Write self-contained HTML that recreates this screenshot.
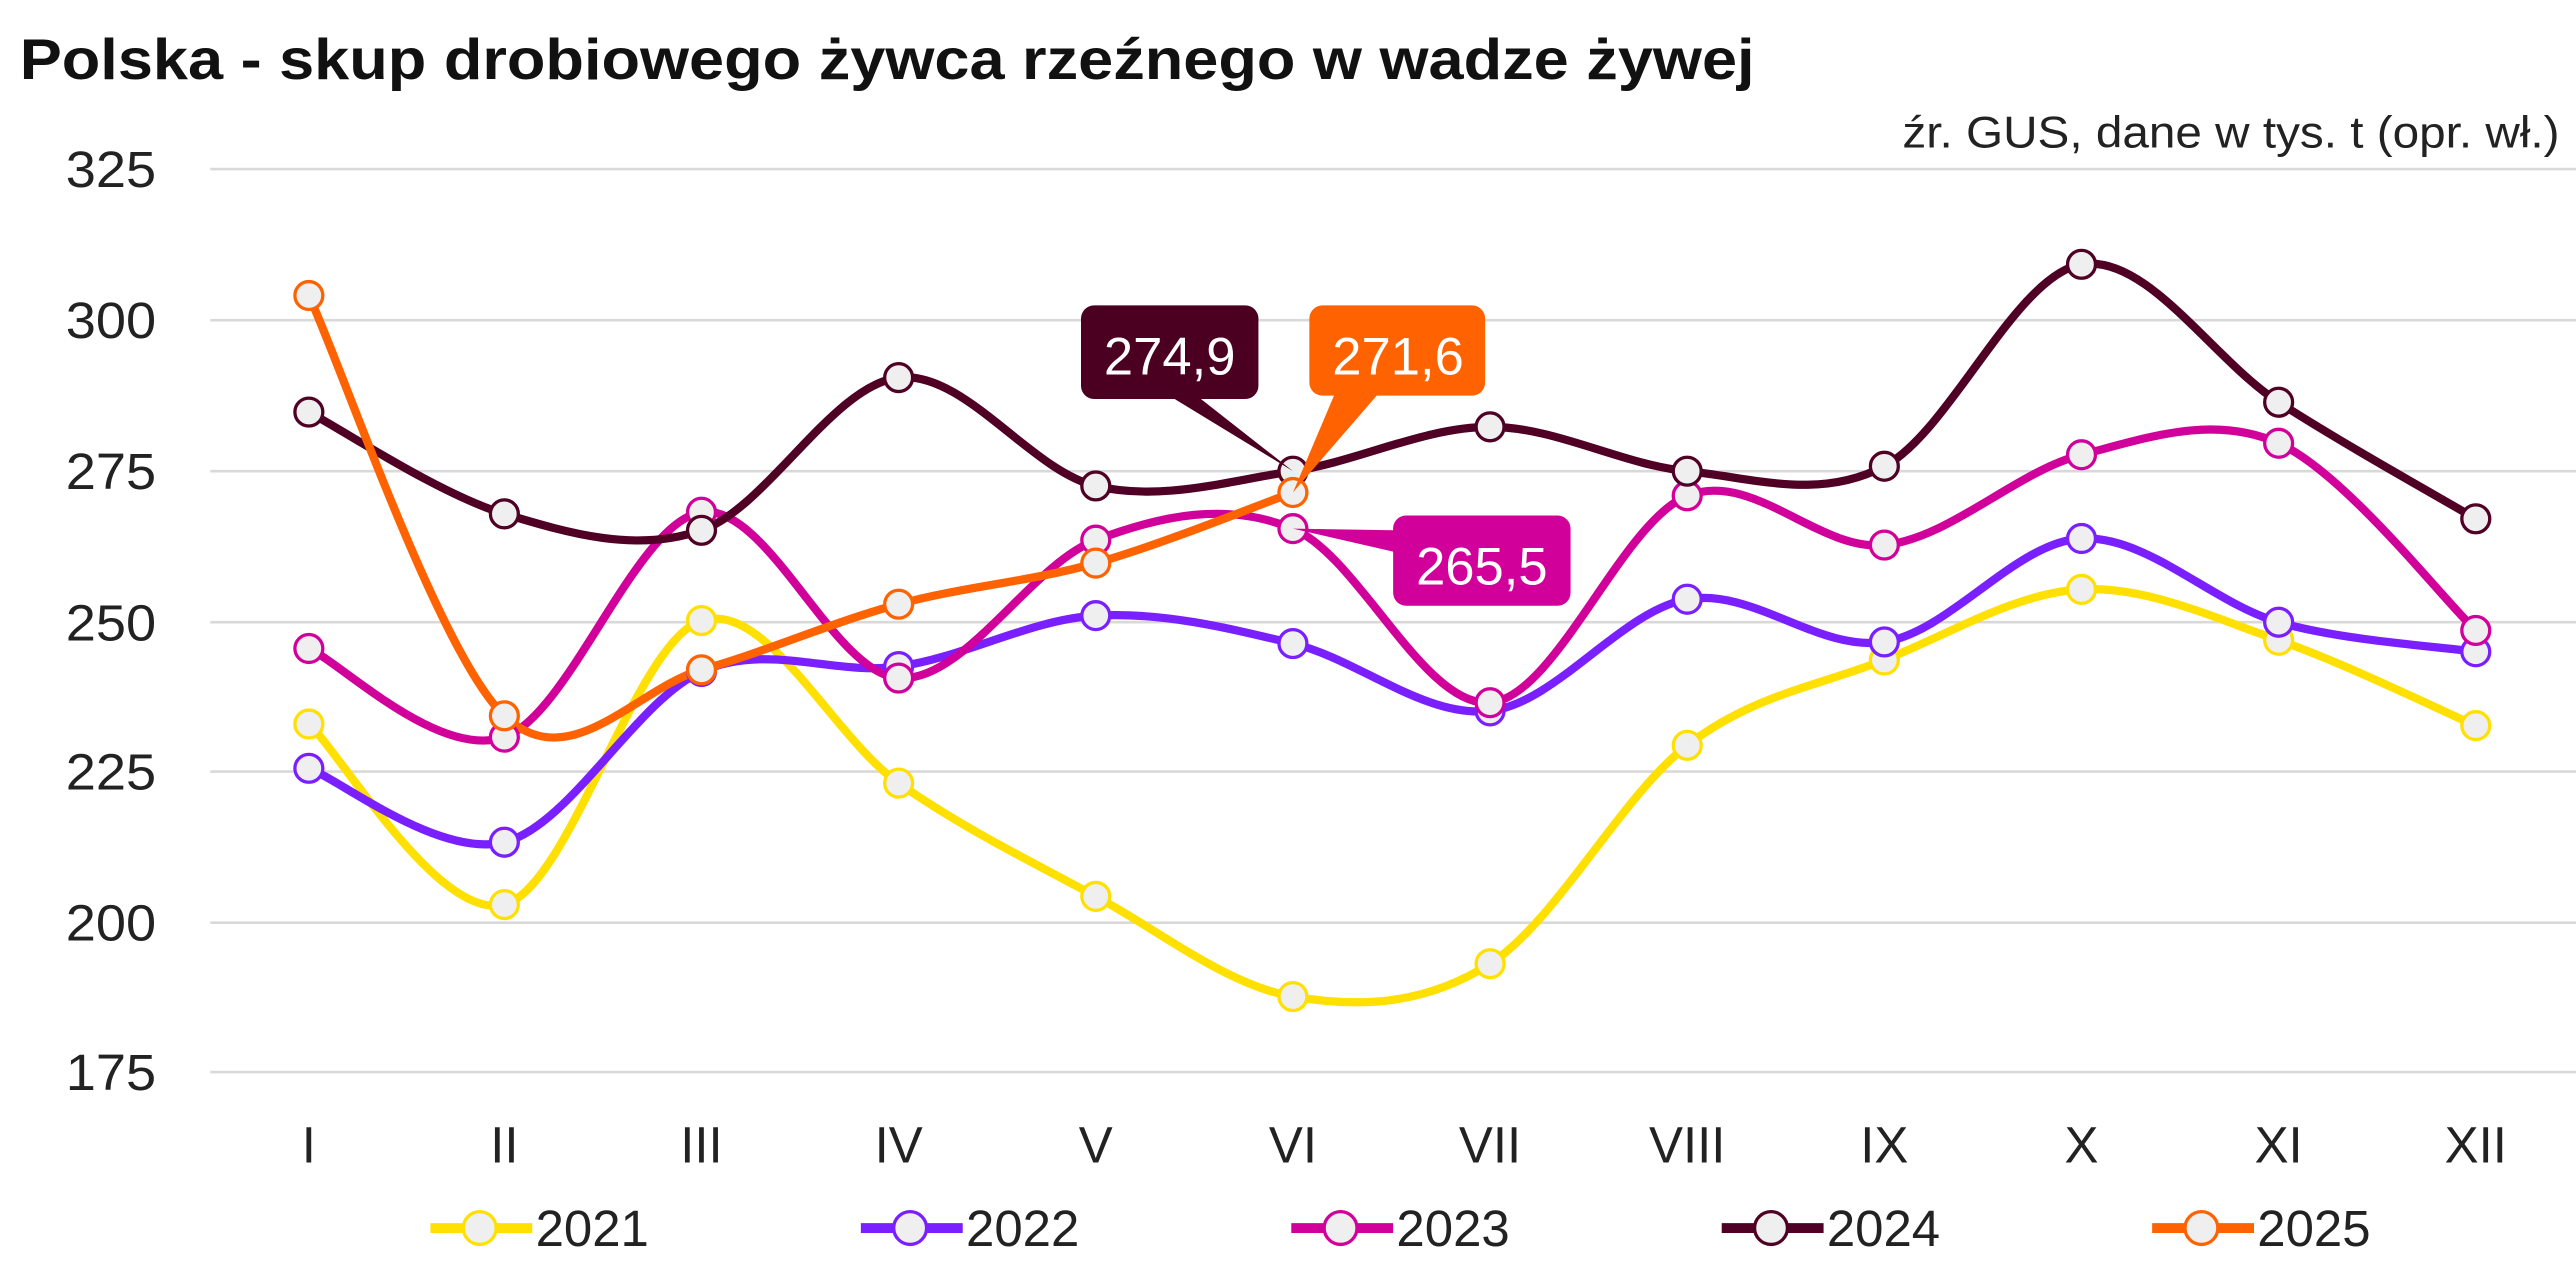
<!DOCTYPE html>
<html><head><meta charset="utf-8"><style>
html,body{margin:0;padding:0;background:#fff;}
svg{display:block;}
text{font-family:"Liberation Sans","DejaVu Sans",sans-serif;}
</style></head><body>
<svg id="s" width="2576" height="1274" viewBox="0 0 1568 776" preserveAspectRatio="none" xmlns="http://www.w3.org/2000/svg">
<text x="12" y="48" font-size="35" font-weight="bold" fill="#111" textLength="1056" lengthAdjust="spacingAndGlyphs">Polska - skup drobiowego żywca rzeźnego w wadze żywej</text>
<text x="1558" y="90" font-size="27" fill="#222" text-anchor="end" textLength="400" lengthAdjust="spacingAndGlyphs">źr. GUS, dane w tys. t (opr. wł.)</text>
<g stroke="#d9d9d9" stroke-width="1.6">
<line x1="128" x2="1568" y1="103" y2="103"/><line x1="128" x2="1568" y1="195" y2="195"/><line x1="128" x2="1568" y1="287" y2="287"/><line x1="128" x2="1568" y1="379" y2="379"/><line x1="128" x2="1568" y1="470" y2="470"/><line x1="128" x2="1568" y1="562" y2="562"/><line x1="128" x2="1568" y1="653" y2="653"/>
</g>
<g font-size="31" fill="#222" text-anchor="end">
<text x="95" y="114" textLength="55" lengthAdjust="spacingAndGlyphs">325</text><text x="95" y="206" textLength="55" lengthAdjust="spacingAndGlyphs">300</text><text x="95" y="298" textLength="55" lengthAdjust="spacingAndGlyphs">275</text><text x="95" y="390" textLength="55" lengthAdjust="spacingAndGlyphs">250</text><text x="95" y="481" textLength="55" lengthAdjust="spacingAndGlyphs">225</text><text x="95" y="573" textLength="55" lengthAdjust="spacingAndGlyphs">200</text><text x="95" y="664" textLength="55" lengthAdjust="spacingAndGlyphs">175</text>
</g>
<g font-size="31" fill="#222" text-anchor="middle">
<text x="188" y="708">I</text><text x="307" y="708">II</text><text x="427" y="708">III</text><text x="547" y="708">IV</text><text x="667" y="708">V</text><text x="787" y="708">VI</text><text x="907" y="708">VII</text><text x="1027" y="708">VIII</text><text x="1147" y="708">IX</text><text x="1267" y="708">X</text><text x="1387" y="708">XI</text><text x="1507" y="708">XII</text>
</g>
<g id="series"></g>
<path d="M666,186 H758 a8,8 0 0 1 8,8 V235 a8,8 0 0 1 -8,8 H731 L787,287 L715,243 H666 a8,8 0 0 1 -8,-8 V194 a8,8 0 0 1 8,-8z" fill="#4c0021"/>
<text x="712" y="228" font-size="32" fill="#fff" text-anchor="middle">274,9</text>
<path d="M805,186 H896 a8,8 0 0 1 8,8 V233 a8,8 0 0 1 -8,8 H838 L787,300 L812,241 H805 a8,8 0 0 1 -8,-8 V194 a8,8 0 0 1 8,-8z" fill="#ff6200"/>
<text x="851" y="228" font-size="32" fill="#fff" text-anchor="middle">271,6</text>
<path d="M856,314 H948 a8,8 0 0 1 8,8 V361 a8,8 0 0 1 -8,8 H856 a8,8 0 0 1 -8,-8 V336 L787,322 L848,323 a8,8 0 0 1 8,-9z" fill="#d1009a"/>
<text x="902" y="356" font-size="32" fill="#fff" text-anchor="middle">265,5</text>
<g id="legend" font-size="31" fill="#222">
<text x="326" y="759">2021</text><text x="588" y="759">2022</text><text x="850" y="759">2023</text><text x="1112" y="759">2024</text><text x="1374" y="759">2025</text>
</g>
</svg>
<script>
var xs=[188,307,427,547,667,787,907,1027,1147,1267,1387,1507];
var S=[
["#ffe000",[441,551,378,477,546,607,587,454,402,359,390,442]],
["#7a1fff",[468,513,409,406,375,392,433,365,391,328,379,397]],
["#d1009a",[395,449,312,413,329,322,428,302,332,277,270,384]],
["#4f0024",[251,313,323,230,296,287,260,287,284,161,245,316]],
["#ff6200",[180,436,408,368,343,300]]
];
var g=document.getElementById('series'),ns="http://www.w3.org/2000/svg";
function path(ys){
 var n=ys.length,p=[];for(var i=0;i<n;i++)p.push([xs[i],ys[i]]);
 var d="M"+p[0][0]+","+p[0][1];
 for(var i=0;i<n-1;i++){
  var p0=p[i-1]||p[i],p1=p[i],p2=p[i+1],p3=p[i+2]||p[i+1];
  var c1=[p1[0]+(p2[0]-p0[0])/6,p1[1]+(p2[1]-p0[1])/6];
  var c2=[p2[0]-(p3[0]-p1[0])/6,p2[1]-(p3[1]-p1[1])/6];
  d+=" C"+c1+" "+c2+" "+p2;
 }
 return d;
}
S.forEach(function(s){
 var pa=document.createElementNS(ns,'path');
 pa.setAttribute('d',path(s[1]));pa.setAttribute('fill','none');pa.setAttribute('stroke',s[0]);pa.setAttribute('stroke-width','5');pa.setAttribute('stroke-linejoin','round');
 g.appendChild(pa);
});
S.forEach(function(s){
 s[1].forEach(function(y,i){
  var c=document.createElementNS(ns,'circle');
  c.setAttribute('cx',xs[i]);c.setAttribute('cy',y);c.setAttribute('r','8.5');c.setAttribute('fill','#f0eff0');c.setAttribute('stroke',s[0]);c.setAttribute('stroke-width','2');
  g.appendChild(c);
 });
});
var lg=document.getElementById('legend');
var lx=[262,524,786,1048,1310];
S.forEach(function(s,i){
 var l=document.createElementNS(ns,'line');
 l.setAttribute('x1',lx[i]);l.setAttribute('x2',lx[i]+62);l.setAttribute('y1',748);l.setAttribute('y2',748);l.setAttribute('stroke',s[0]);l.setAttribute('stroke-width','6');
 lg.appendChild(l);
 var c=document.createElementNS(ns,'circle');
 c.setAttribute('cx',lx[i]+30);c.setAttribute('cy',748);c.setAttribute('r','10');c.setAttribute('fill','#f0eff0');c.setAttribute('stroke',s[0]);c.setAttribute('stroke-width','2');
 lg.appendChild(c);
});
</script>
</body></html>
